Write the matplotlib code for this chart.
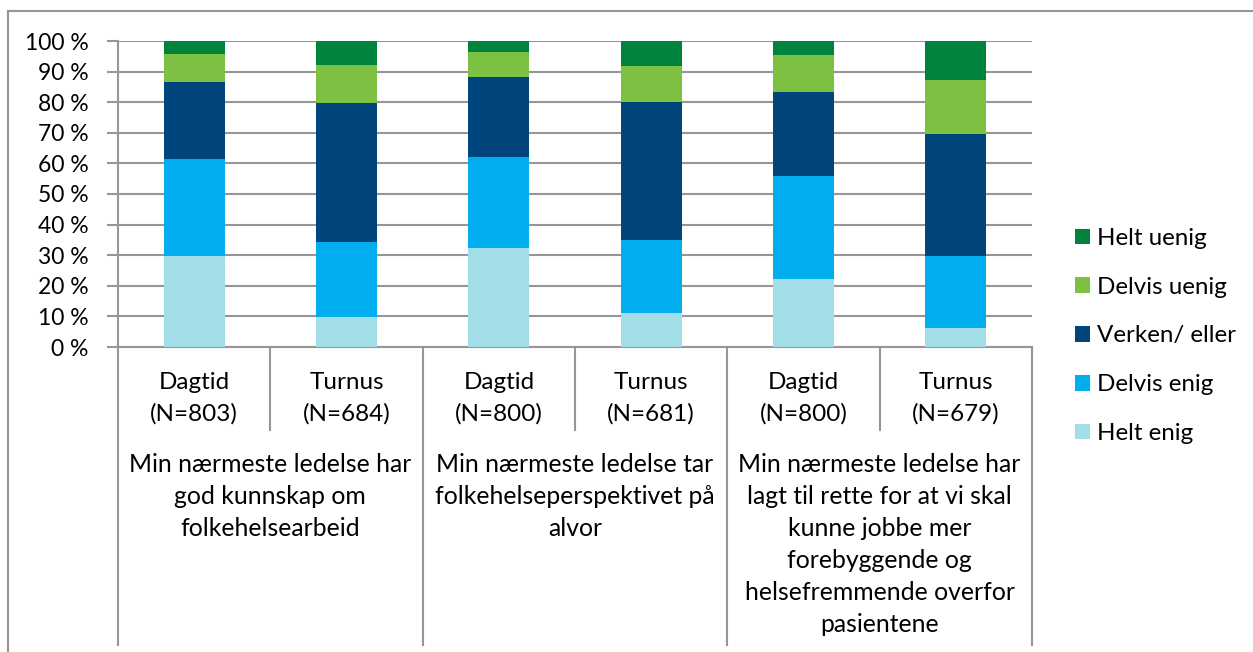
import matplotlib.pyplot as plt
import numpy as np
from matplotlib.lines import Line2D
from matplotlib.patches import Patch
from matplotlib.ticker import FuncFormatter

plt.rcParams['font.family'] = ['Lato', 'DejaVu Sans']

# data (percent), one entry per bar
groups = ['Dagtid\n(N=803)', 'Turnus\n(N=684)', 'Dagtid\n(N=800)',
          'Turnus\n(N=681)', 'Dagtid\n(N=800)', 'Turnus\n(N=679)']
questions = ['Min nærmeste ledelse har\ngod kunnskap om\nfolkehelsearbeid',
             'Min nærmeste ledelse tar\nfolkehelseperspektivet på\nalvor',
             'Min nærmeste ledelse har\nlagt til rette for at vi skal\nkunne jobbe mer\n'
             'forebyggende og\nhelsefremmende overfor\npasientene']
helt_enig = [29.8, 9.7, 32.2, 11.0, 22.2, 6.2]
delvis_enig = [31.5, 24.7, 29.8, 24.1, 33.6, 23.7]
verken = [25.4, 45.4, 26.1, 44.9, 27.6, 39.7]
delvis_uenig = [8.9, 12.3, 8.4, 11.9, 12.0, 17.6]
helt_uenig = [4.4, 7.9, 3.5, 8.1, 4.6, 12.8]

series = [('Helt enig', helt_enig, '#a3dde8'),
          ('Delvis enig', delvis_enig, '#00aeef'),
          ('Verken/ eller', verken, '#00457c'),
          ('Delvis uenig', delvis_uenig, '#7dc142'),
          ('Helt uenig', helt_uenig, '#00843d')]

W, H = 1253, 652
fig = plt.figure(figsize=(W / 100, H / 100), dpi=100)
ax = fig.add_axes([118 / W, 1 - 347 / H, (1032 - 118) / W, (347 - 41) / H])

grid_c = '#969696'
x = np.arange(len(groups))
bottom = np.zeros(len(groups))
for name, vals, col in series:
    ax.bar(x, vals, width=0.4, bottom=bottom, color=col, label=name, zorder=3)
    bottom += np.array(vals)

ax.set_xlim(-0.5, len(groups) - 0.5)
ax.set_ylim(0, 100)
ax.set_yticks(np.arange(0, 101, 10))
ax.yaxis.set_major_formatter(FuncFormatter(lambda v, p: f'{v:.0f} %'))
ax.tick_params(axis='y', length=8, width=1.5, color=grid_c, labelsize=16.5, pad=13)
ax.set_xticks([])
ax.grid(axis='y', color=grid_c, linewidth=1.5, zorder=0)
for s in ['top', 'right']:
    ax.spines[s].set_visible(False)
for s in ['left', 'bottom']:
    ax.spines[s].set_color(grid_c)
    ax.spines[s].set_linewidth(1.5)

# multi-level category axis
tr = ax.get_xaxis_transform()
for i in range(len(groups) + 1):
    xs = i - 0.5
    y_end = -0.974 if i % 2 == 0 else -0.271
    ax.plot([xs, xs], [0, y_end], color=grid_c, lw=1.5, transform=tr, clip_on=False)
for i, g in enumerate(groups):
    ax.text(i, -0.168, g, transform=tr, ha='center', va='center',
            fontsize=17.5, linespacing=1.6)
for j, q in enumerate(questions):
    ax.text(2 * j + 0.5, -0.345, q, transform=tr, ha='center', va='top',
            fontsize=17.8, linespacing=1.48)

handles = [Patch(facecolor=c, label=n) for n, v, c in series][::-1]
fig.legend(handles=handles, loc='center left', bbox_to_anchor=(1075 / W, 1 - 336 / H),
           frameon=False, fontsize=17.4, handlelength=0.62, handleheight=0.62,
           handletextpad=0.3, labelspacing=1.15, borderpad=0, borderaxespad=0)

# outer chart frame (top and left visible)
fig.add_artist(Line2D([8 / W, 1.0], [1 - 11 / H, 1 - 11 / H], color=grid_c, lw=1.5))
fig.add_artist(Line2D([8 / W, 8 / W], [0, 1 - 11 / H], color=grid_c, lw=1.5))

fig.savefig('out.png', dpi=100)
